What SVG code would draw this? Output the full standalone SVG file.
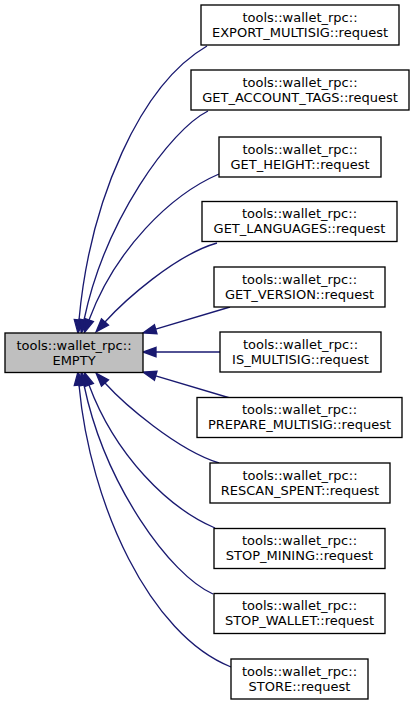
<svg xmlns="http://www.w3.org/2000/svg" width="415" height="705" viewBox="0 0 415 705">
<style>
  .box { fill: #ffffff; stroke: #000000; stroke-width: 1.33; }
  .root { fill: #bfbfbf; stroke: #000000; stroke-width: 1.33; }
  text { font-family: "DejaVu Sans", "Liberation Sans", sans-serif; font-size: 13px; fill: #000000; text-anchor: middle; }
  .edge { fill: none; stroke: #191970; stroke-width: 1.33; }
  .head { fill: #191970; stroke: #191970; stroke-width: 1.33; }
</style>
<rect width="415" height="705" fill="#ffffff"/>
<g id="connectors">
  <path class="edge" d="M207,46 C140,85 90,200 79,320"/>
  <polygon class="head" points="74.3,319.6 78,333.3 83.7,320.4"/>
  <path class="edge" d="M208,111 C170,130 105,220 84,320"/>
  <polygon class="head" points="79.4,319 81.3,333 88.6,321"/>
  <path class="edge" d="M219,174 C170,195 115,250 89,320"/>
  <polygon class="head" points="84.6,318.4 84.4,332.5 93.4,321.6"/>
  <path class="edge" d="M217,243 C175,255 124,301 105,322"/>
  <polygon class="head" points="101.5,318.8 96.1,331.9 108.5,325.2"/>
  <path class="edge" d="M230,307 L155.7,329.2"/>
  <polygon class="head" points="154.4,324.7 143,333 157,333.7"/>
  <path class="edge" d="M220,352 L156,352"/>
  <polygon class="head" points="156,347.3 143,352 156,356.7"/>
  <path class="edge" d="M230,398 L155.7,375.8"/>
  <polygon class="head" points="154.4,380.3 143,372 157,371.3"/>
  <path class="edge" d="M219,463 C177,450 124,404 105,383"/>
  <polygon class="head" points="101.5,386.2 96.1,373.1 108.5,379.8"/>
  <path class="edge" d="M215,528 C168,508 115,455 89,385"/>
  <polygon class="head" points="84.6,386.6 84.4,372.5 93.4,383.4"/>
  <path class="edge" d="M213,594 C170,575 105,485 84,385"/>
  <polygon class="head" points="79.4,386 81.3,372 88.6,384"/>
  <path class="edge" d="M231,667 C150,635 90,505 79,385"/>
  <polygon class="head" points="74.3,385.4 78,371.7 83.7,384.6"/>
</g>
<g id="EMPTY">
  <rect class="root" x="5" y="333" width="138" height="39.5"/>
  <text x="74" y="349.5">tools::wallet_rpc::</text>
  <text x="74" y="364.5">EMPTY</text>
</g>
<g id="EXPORT_MULTISIG">
  <rect class="box" x="201" y="5" width="198" height="40"/>
  <text x="300" y="21.5">tools::wallet_rpc::</text>
  <text x="300" y="36.5">EXPORT_MULTISIG::request</text>
</g>
<g id="GET_ACCOUNT_TAGS">
  <rect class="box" x="191" y="70" width="218" height="40"/>
  <text x="300" y="86.5">tools::wallet_rpc::</text>
  <text x="300" y="101.5">GET_ACCOUNT_TAGS::request</text>
</g>
<g id="GET_HEIGHT">
  <rect class="box" x="219" y="137" width="162" height="40"/>
  <text x="300" y="153.5">tools::wallet_rpc::</text>
  <text x="300" y="168.5">GET_HEIGHT::request</text>
</g>
<g id="GET_LANGUAGES">
  <rect class="box" x="202" y="201.5" width="195" height="40"/>
  <text x="299.5" y="218">tools::wallet_rpc::</text>
  <text x="299.5" y="233">GET_LANGUAGES::request</text>
</g>
<g id="GET_VERSION">
  <rect class="box" x="214" y="267" width="171" height="40"/>
  <text x="299.5" y="283.5">tools::wallet_rpc::</text>
  <text x="299.5" y="298.5">GET_VERSION::request</text>
</g>
<g id="IS_MULTISIG">
  <rect class="box" x="220" y="332" width="161" height="40"/>
  <text x="300.5" y="348.5">tools::wallet_rpc::</text>
  <text x="300.5" y="363.5">IS_MULTISIG::request</text>
</g>
<g id="PREPARE_MULTISIG">
  <rect class="box" x="197" y="397.5" width="205" height="40"/>
  <text x="299.5" y="414">tools::wallet_rpc::</text>
  <text x="299.5" y="429">PREPARE_MULTISIG::request</text>
</g>
<g id="RESCAN_SPENT">
  <rect class="box" x="210" y="463" width="180" height="40"/>
  <text x="300" y="479.5">tools::wallet_rpc::</text>
  <text x="300" y="494.5">RESCAN_SPENT::request</text>
</g>
<g id="STOP_MINING">
  <rect class="box" x="214" y="528.5" width="171" height="40"/>
  <text x="299.5" y="545">tools::wallet_rpc::</text>
  <text x="299.5" y="560">STOP_MINING::request</text>
</g>
<g id="STOP_WALLET">
  <rect class="box" x="214" y="593.5" width="171" height="40"/>
  <text x="299.5" y="610">tools::wallet_rpc::</text>
  <text x="299.5" y="625">STOP_WALLET::request</text>
</g>
<g id="STORE">
  <rect class="box" x="231" y="659" width="137" height="40"/>
  <text x="299.5" y="675.5">tools::wallet_rpc::</text>
  <text x="299.5" y="690.5">STORE::request</text>
</g>
</svg>
